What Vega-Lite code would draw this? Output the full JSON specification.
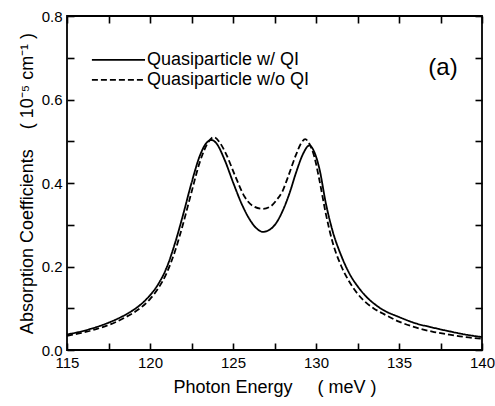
{
  "$schema": "https://vega.github.io/schema/vega-lite/v6.json",
  "autosize": "none",
  "width": 415,
  "height": 334,
  "padding": {"left": 67, "top": 16, "right": 13, "bottom": 56},
  "config": {
    "view": {"stroke": "black", "strokeWidth": 1.8},
    "font": "Liberation Sans",
    "axis": {
      "domain": false, "offset": -7, "tickColor": "black", "tickWidth": 1.6,
      "tickSize": 7, "ticks": true, "grid": false, "labelColor": "black", "titleColor": "black",
      "labelFont": "Liberation Sans", "titleFont": "Liberation Sans", "labelFontSize": 15,
      "titleFontSize": 18, "titleFontWeight": "normal"
    }
  },
  "datasets": {
    "curves": [
      {"E": 115.0, "A": 0.037, "s": "Quasiparticle w/ QI"},
      {"E": 116.0, "A": 0.046, "s": "Quasiparticle w/ QI"},
      {"E": 117.0, "A": 0.058, "s": "Quasiparticle w/ QI"},
      {"E": 118.0, "A": 0.074, "s": "Quasiparticle w/ QI"},
      {"E": 118.5, "A": 0.084, "s": "Quasiparticle w/ QI"},
      {"E": 119.0, "A": 0.096, "s": "Quasiparticle w/ QI"},
      {"E": 119.5, "A": 0.111, "s": "Quasiparticle w/ QI"},
      {"E": 120.0, "A": 0.131, "s": "Quasiparticle w/ QI"},
      {"E": 120.5, "A": 0.158, "s": "Quasiparticle w/ QI"},
      {"E": 121.0, "A": 0.197, "s": "Quasiparticle w/ QI"},
      {"E": 121.5, "A": 0.255, "s": "Quasiparticle w/ QI"},
      {"E": 122.0, "A": 0.325, "s": "Quasiparticle w/ QI"},
      {"E": 122.5, "A": 0.4, "s": "Quasiparticle w/ QI"},
      {"E": 123.0, "A": 0.465, "s": "Quasiparticle w/ QI"},
      {"E": 123.4, "A": 0.496, "s": "Quasiparticle w/ QI"},
      {"E": 123.7, "A": 0.503, "s": "Quasiparticle w/ QI"},
      {"E": 124.0, "A": 0.495, "s": "Quasiparticle w/ QI"},
      {"E": 124.5, "A": 0.455, "s": "Quasiparticle w/ QI"},
      {"E": 125.0, "A": 0.402, "s": "Quasiparticle w/ QI"},
      {"E": 125.5, "A": 0.352, "s": "Quasiparticle w/ QI"},
      {"E": 126.0, "A": 0.313, "s": "Quasiparticle w/ QI"},
      {"E": 126.4, "A": 0.292, "s": "Quasiparticle w/ QI"},
      {"E": 126.8, "A": 0.283, "s": "Quasiparticle w/ QI"},
      {"E": 127.2, "A": 0.288, "s": "Quasiparticle w/ QI"},
      {"E": 127.6, "A": 0.304, "s": "Quasiparticle w/ QI"},
      {"E": 128.0, "A": 0.334, "s": "Quasiparticle w/ QI"},
      {"E": 128.4, "A": 0.375, "s": "Quasiparticle w/ QI"},
      {"E": 128.8, "A": 0.425, "s": "Quasiparticle w/ QI"},
      {"E": 129.2, "A": 0.468, "s": "Quasiparticle w/ QI"},
      {"E": 129.6, "A": 0.49, "s": "Quasiparticle w/ QI"},
      {"E": 129.9, "A": 0.474, "s": "Quasiparticle w/ QI"},
      {"E": 130.2, "A": 0.435, "s": "Quasiparticle w/ QI"},
      {"E": 130.6, "A": 0.35, "s": "Quasiparticle w/ QI"},
      {"E": 131.0, "A": 0.285, "s": "Quasiparticle w/ QI"},
      {"E": 131.5, "A": 0.228, "s": "Quasiparticle w/ QI"},
      {"E": 132.0, "A": 0.184, "s": "Quasiparticle w/ QI"},
      {"E": 132.5, "A": 0.153, "s": "Quasiparticle w/ QI"},
      {"E": 133.0, "A": 0.129, "s": "Quasiparticle w/ QI"},
      {"E": 133.5, "A": 0.111, "s": "Quasiparticle w/ QI"},
      {"E": 134.0, "A": 0.097, "s": "Quasiparticle w/ QI"},
      {"E": 135.0, "A": 0.079, "s": "Quasiparticle w/ QI"},
      {"E": 136.0, "A": 0.064, "s": "Quasiparticle w/ QI"},
      {"E": 137.0, "A": 0.054, "s": "Quasiparticle w/ QI"},
      {"E": 138.0, "A": 0.045, "s": "Quasiparticle w/ QI"},
      {"E": 139.0, "A": 0.037, "s": "Quasiparticle w/ QI"},
      {"E": 140.0, "A": 0.031, "s": "Quasiparticle w/ QI"},
      {"E": 115.0, "A": 0.034, "s": "Quasiparticle w/o QI"},
      {"E": 116.0, "A": 0.042, "s": "Quasiparticle w/o QI"},
      {"E": 117.0, "A": 0.053, "s": "Quasiparticle w/o QI"},
      {"E": 118.0, "A": 0.068, "s": "Quasiparticle w/o QI"},
      {"E": 118.5, "A": 0.078, "s": "Quasiparticle w/o QI"},
      {"E": 119.0, "A": 0.089, "s": "Quasiparticle w/o QI"},
      {"E": 119.5, "A": 0.103, "s": "Quasiparticle w/o QI"},
      {"E": 120.0, "A": 0.122, "s": "Quasiparticle w/o QI"},
      {"E": 120.5, "A": 0.148, "s": "Quasiparticle w/o QI"},
      {"E": 121.0, "A": 0.184, "s": "Quasiparticle w/o QI"},
      {"E": 121.5, "A": 0.236, "s": "Quasiparticle w/o QI"},
      {"E": 122.0, "A": 0.303, "s": "Quasiparticle w/o QI"},
      {"E": 122.5, "A": 0.378, "s": "Quasiparticle w/o QI"},
      {"E": 123.0, "A": 0.45, "s": "Quasiparticle w/o QI"},
      {"E": 123.5, "A": 0.497, "s": "Quasiparticle w/o QI"},
      {"E": 123.85, "A": 0.51, "s": "Quasiparticle w/o QI"},
      {"E": 124.2, "A": 0.497, "s": "Quasiparticle w/o QI"},
      {"E": 124.6, "A": 0.468, "s": "Quasiparticle w/o QI"},
      {"E": 125.1, "A": 0.42, "s": "Quasiparticle w/o QI"},
      {"E": 125.7, "A": 0.367, "s": "Quasiparticle w/o QI"},
      {"E": 126.2, "A": 0.345, "s": "Quasiparticle w/o QI"},
      {"E": 126.8, "A": 0.338, "s": "Quasiparticle w/o QI"},
      {"E": 127.3, "A": 0.345, "s": "Quasiparticle w/o QI"},
      {"E": 127.6, "A": 0.358, "s": "Quasiparticle w/o QI"},
      {"E": 128.0, "A": 0.382, "s": "Quasiparticle w/o QI"},
      {"E": 128.3, "A": 0.413, "s": "Quasiparticle w/o QI"},
      {"E": 128.8, "A": 0.468, "s": "Quasiparticle w/o QI"},
      {"E": 129.1, "A": 0.495, "s": "Quasiparticle w/o QI"},
      {"E": 129.35, "A": 0.505, "s": "Quasiparticle w/o QI"},
      {"E": 129.6, "A": 0.494, "s": "Quasiparticle w/o QI"},
      {"E": 129.9, "A": 0.463, "s": "Quasiparticle w/o QI"},
      {"E": 130.2, "A": 0.408, "s": "Quasiparticle w/o QI"},
      {"E": 130.6, "A": 0.325, "s": "Quasiparticle w/o QI"},
      {"E": 131.0, "A": 0.258, "s": "Quasiparticle w/o QI"},
      {"E": 131.5, "A": 0.203, "s": "Quasiparticle w/o QI"},
      {"E": 132.0, "A": 0.164, "s": "Quasiparticle w/o QI"},
      {"E": 132.5, "A": 0.135, "s": "Quasiparticle w/o QI"},
      {"E": 133.0, "A": 0.114, "s": "Quasiparticle w/o QI"},
      {"E": 133.5, "A": 0.099, "s": "Quasiparticle w/o QI"},
      {"E": 134.0, "A": 0.088, "s": "Quasiparticle w/o QI"},
      {"E": 135.0, "A": 0.068, "s": "Quasiparticle w/o QI"},
      {"E": 136.0, "A": 0.054, "s": "Quasiparticle w/o QI"},
      {"E": 137.0, "A": 0.044, "s": "Quasiparticle w/o QI"},
      {"E": 138.0, "A": 0.037, "s": "Quasiparticle w/o QI"},
      {"E": 139.0, "A": 0.031, "s": "Quasiparticle w/o QI"},
      {"E": 140.0, "A": 0.027, "s": "Quasiparticle w/o QI"}
    ],
    "label": [{"t": "(a)"}],
    "legendSolid": [{"name": "Quasiparticle w/ QI"}],
    "legendDashed": [{"name": "Quasiparticle w/o QI"}]
  },
  "layer": [
    {
      "data": {"name": "curves"},
      "mark": {"type": "line", "color": "black", "strokeWidth": 1.8, "interpolate": "monotone"},
      "encoding": {
        "x": {
          "field": "E", "type": "quantitative",
          "scale": {"domain": [115, 140], "nice": false, "zero": false},
          "axis": {
            "orient": "bottom", "values": [115, 117.5, 120, 122.5, 125, 127.5, 130, 132.5, 135, 137.5, 140],
            "labelExpr": "datum.value % 5 === 0 ? datum.label : ''", "labelPadding": 5,
            "title": "Photon Energy\u00a0\u00a0\u00a0\u00a0\u00a0( meV )", "titlePadding": 8, "labelFlush": false
          }
        },
        "y": {
          "field": "A", "type": "quantitative",
          "scale": {"domain": [0, 0.8], "nice": false},
          "axis": {
            "orient": "left", "values": [0, 0.1, 0.2, 0.3, 0.4, 0.5, 0.6, 0.7, 0.8],
            "labelExpr": "round(datum.value * 10) % 2 === 0 ? format(datum.value, '.1f') : ''",
            "labelPadding": 5, "title": "Absorption Coefficients\u00a0\u00a0\u00a0\u00a0( 10⁻⁵ cm⁻¹ )", "titlePadding": 5
          }
        },
        "strokeDash": {
          "field": "s", "type": "nominal",
          "scale": {"domain": ["Quasiparticle w/ QI", "Quasiparticle w/o QI"], "range": [[1, 0], [6, 3]]},
          "legend": null
        }
      }
    },
    {
      "data": {"name": "legendSolid"},
      "mark": {"type": "rule", "color": "black", "strokeWidth": 1.8},
      "encoding": {
        "x": {"datum": 116.5, "type": "quantitative", "axis": null},
        "x2": {"datum": 119.7},
        "y": {"datum": 0.695, "type": "quantitative", "axis": null}
      }
    },
    {
      "data": {"name": "legendDashed"},
      "mark": {"type": "rule", "color": "black", "strokeWidth": 1.8, "strokeDash": [6, 3]},
      "encoding": {
        "x": {"datum": 116.5, "type": "quantitative", "axis": null},
        "x2": {"datum": 119.7},
        "y": {"datum": 0.647, "type": "quantitative", "axis": null}
      }
    },
    {
      "data": {"name": "legendSolid"},
      "mark": {"type": "text", "fontSize": 18, "font": "Liberation Sans", "color": "black", "align": "left", "baseline": "middle"},
      "encoding": {
        "x": {"datum": 119.82, "type": "quantitative", "axis": null},
        "y": {"datum": 0.695, "type": "quantitative", "axis": null},
        "text": {"field": "name"}
      }
    },
    {
      "data": {"name": "legendDashed"},
      "mark": {"type": "text", "fontSize": 18, "font": "Liberation Sans", "color": "black", "align": "left", "baseline": "middle"},
      "encoding": {
        "x": {"datum": 119.82, "type": "quantitative", "axis": null},
        "y": {"datum": 0.647, "type": "quantitative", "axis": null},
        "text": {"field": "name"}
      }
    },
    {
      "data": {"name": "label"},
      "mark": {"type": "text", "fontSize": 24, "font": "Liberation Sans", "color": "black", "align": "center", "baseline": "middle"},
      "encoding": {
        "x": {
          "datum": 137.65, "type": "quantitative",
          "scale": {"domain": [115, 140], "nice": false, "zero": false},
          "axis": {"orient": "top", "values": [115, 117.5, 120, 122.5, 125, 127.5, 130, 132.5, 135, 137.5, 140], "labels": false, "title": null}
        },
        "y": {
          "datum": 0.675, "type": "quantitative",
          "scale": {"domain": [0, 0.8], "nice": false},
          "axis": {"orient": "right", "values": [0, 0.1, 0.2, 0.3, 0.4, 0.5, 0.6, 0.7, 0.8], "labels": false, "title": null}
        },
        "text": {"field": "t"}
      }
    }
  ],
  "resolve": {"axis": {"x": "independent", "y": "independent"}}
}
